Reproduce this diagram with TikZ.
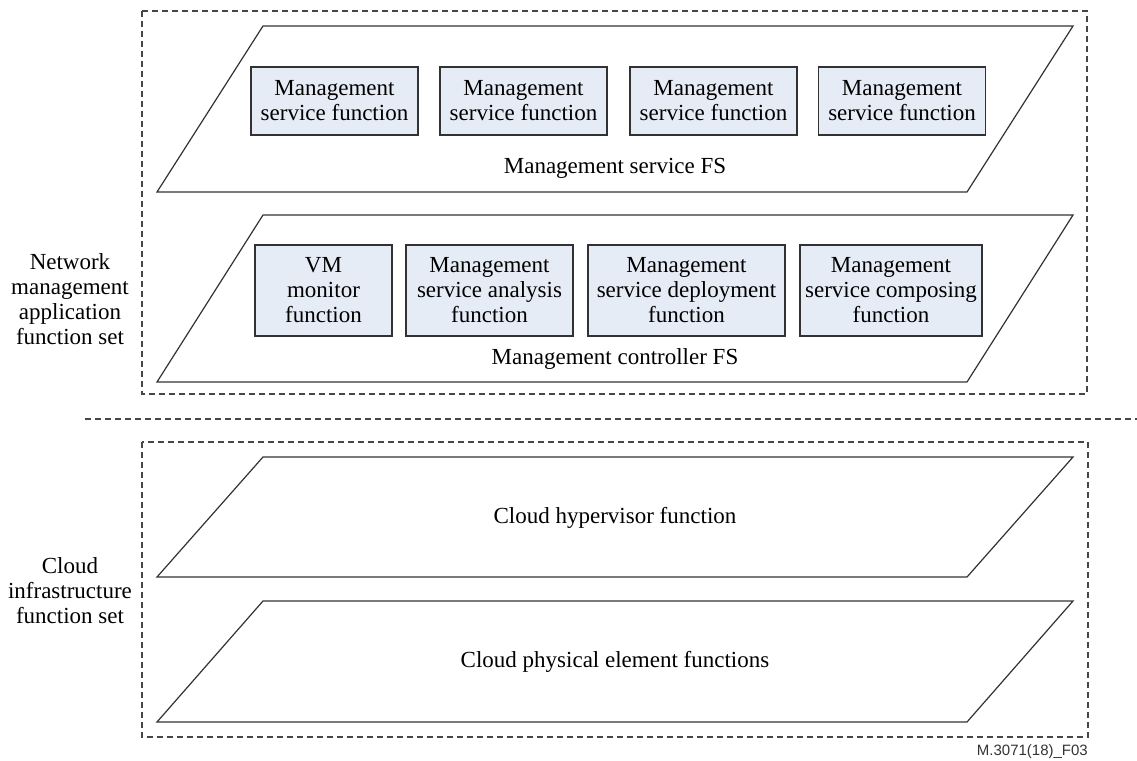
\documentclass[tikz,border=0pt]{standalone}
\usepackage{fontspec}
\setmainfont{Liberation Serif}
\newfontfamily\labelsans{Liberation Sans}
\definecolor{boxfill}{RGB}{230,236,246}
\definecolor{edge}{RGB}{50,50,50}
\definecolor{dashgray}{RGB}{70,70,70}
\begin{document}
\begin{tikzpicture}[x=1pt,y=-1pt,
  txt/.style={font=\fontsize{23}{25}\selectfont, align=center, inner sep=0pt},
  fnbox/.style={txt, draw=edge, line width=1.1pt, fill=boxfill, minimum height=68pt},
  cbox/.style={fnbox, minimum height=91pt},
  plane/.style={draw=edge, line width=1.2pt, line join=miter},
  group/.style={draw=dashgray, line width=1.1pt, dash pattern=on 6pt off 4pt},
]
\useasboundingbox (0,0) rectangle (1137,760);

% function-set groups
\draw[group] (142,11) rectangle (1087,394);
\draw[group] (142,442) rectangle (1088,737);
\draw[group] (85,419) -- (1137,419);

% planes
\draw[plane] (263,26) -- (1073,26) -- (967,192) -- (157,192) -- cycle;
\draw[plane] (263,215) -- (1073,215) -- (967,382) -- (157,382) -- cycle;
\draw[plane] (263,457) -- (1073,457) -- (967,577) -- (157,577) -- cycle;
\draw[plane] (263,601) -- (1073,601) -- (967,722) -- (157,722) -- cycle;

% management service functions
\node[fnbox, minimum width=167pt] (ms1) at (334.5,101) {Management\\service function};
\node[fnbox, minimum width=167pt] (ms2) at (523.5,101) {Management\\service function};
\node[fnbox, minimum width=167pt] (ms3) at (713.5,101) {Management\\service function};
\node[fnbox, minimum width=167pt] (ms4) at (902,101) {Management\\service function};
\node[txt] (msfs) at (615,168) {Management service FS};

% management controller functions
\node[cbox, minimum width=137pt] (vm) at (323.5,290.5) {VM\\monitor\\function};
\node[cbox, minimum width=167pt] (ana) at (489.5,290.5) {Management\\service analysis\\function};
\node[cbox, minimum width=197pt] (dep) at (686.5,290.5) {Management\\service deployment\\function};
\node[cbox, minimum width=182pt] (cmp) at (891,290.5) {Management\\service composing\\function};
\node[txt] (mcfs) at (615,359) {Management controller FS};

% cloud infrastructure planes
\node[txt] (hyp) at (615,518) {Cloud hypervisor function};
\node[txt] (phy) at (615,662) {Cloud physical element functions};

% side labels
\node[txt] (nmafs) at (70,299) {Network\\management\\application\\function set};
\node[txt] (cifs) at (70,591) {Cloud\\infrastructure\\function set};

% figure reference
\node[font=\labelsans\fontsize{15}{17}\selectfont, text=black!80, anchor=east, inner sep=0pt] (ref) at (1088,752) {M.3071(18)\_F03};
\end{tikzpicture}
\end{document}
